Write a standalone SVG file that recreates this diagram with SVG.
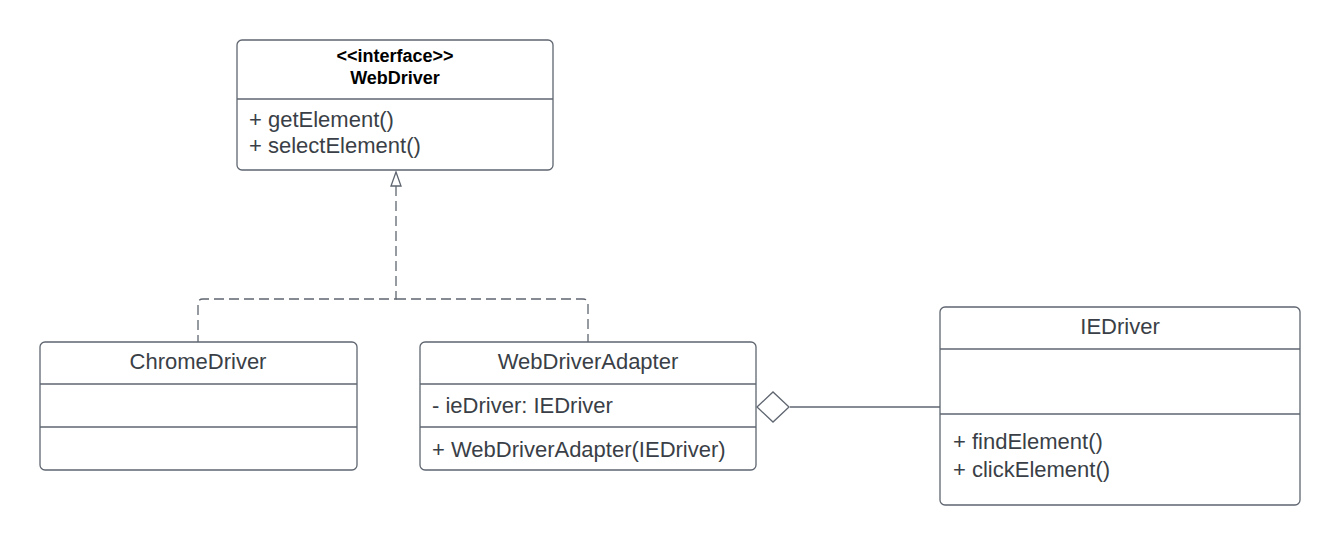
<svg xmlns="http://www.w3.org/2000/svg" width="1340" height="545" viewBox="0 0 1340 545">
<style>
.box{fill:#ffffff;stroke:#5f6670;stroke-width:1.3}
.div{stroke:#5f6670;stroke-width:1.3}
.t{font-family:"Liberation Sans",Arial,sans-serif;font-size:22px;fill:#3a3f47}
.c{text-anchor:middle}
.b{font-family:"Liberation Sans",Arial,sans-serif;font-size:18px;font-weight:bold;fill:#000;text-anchor:middle}
.con{fill:none;stroke:#5f6670;stroke-width:1.3}
.dash{stroke-dasharray:10 5}
</style>
<rect width="1340" height="545" fill="#ffffff"/>
<g id="connectors">
<path class="con dash" d="M396,186 V299 H203 Q198,299 198,304 V342"/>
<path class="con dash" d="M396,299 H583 Q588,299 588,304 V342"/>
<path class="con" d="M396,172 L401,186 L391,186 Z" fill="#fff"/>
<path class="con" d="M790,407 H940"/>
<path class="con" d="M757,407 L773,392 L789,407 L773,422 Z" style="fill:#fff"/>
</g>
<g id="WebDriver">
<rect class="box" x="237" y="40" width="316" height="130" rx="5"/>
<line class="div" x1="237" y1="99" x2="553" y2="99"/>
<text class="b" x="395" y="62">&lt;&lt;interface&gt;&gt;</text>
<text class="b" x="395" y="84">WebDriver</text>
<text class="t" x="249" y="127">+ getElement()</text>
<text class="t" x="249" y="153">+ selectElement()</text>
</g>
<g id="ChromeDriver">
<rect class="box" x="40" y="342" width="317" height="128" rx="5"/>
<line class="div" x1="40" y1="384" x2="357" y2="384"/>
<line class="div" x1="40" y1="427" x2="357" y2="427"/>
<text class="t c" x="198" y="369">ChromeDriver</text>
</g>
<g id="WebDriverAdapter">
<rect class="box" x="420" y="342" width="336" height="128" rx="5"/>
<line class="div" x1="420" y1="384" x2="756" y2="384"/>
<line class="div" x1="420" y1="427" x2="756" y2="427"/>
<text class="t c" x="588" y="369">WebDriverAdapter</text>
<text class="t" x="432" y="413">- ieDriver: IEDriver</text>
<text class="t" x="432" y="457">+ WebDriverAdapter(IEDriver)</text>
</g>
<g id="IEDriver">
<rect class="box" x="940" y="307" width="360" height="198" rx="5"/>
<line class="div" x1="940" y1="349" x2="1300" y2="349"/>
<line class="div" x1="940" y1="414" x2="1300" y2="414"/>
<text class="t c" x="1120" y="334">IEDriver</text>
<text class="t" x="953" y="449">+ findElement()</text>
<text class="t" x="953" y="477">+ clickElement()</text>
</g>
</svg>
